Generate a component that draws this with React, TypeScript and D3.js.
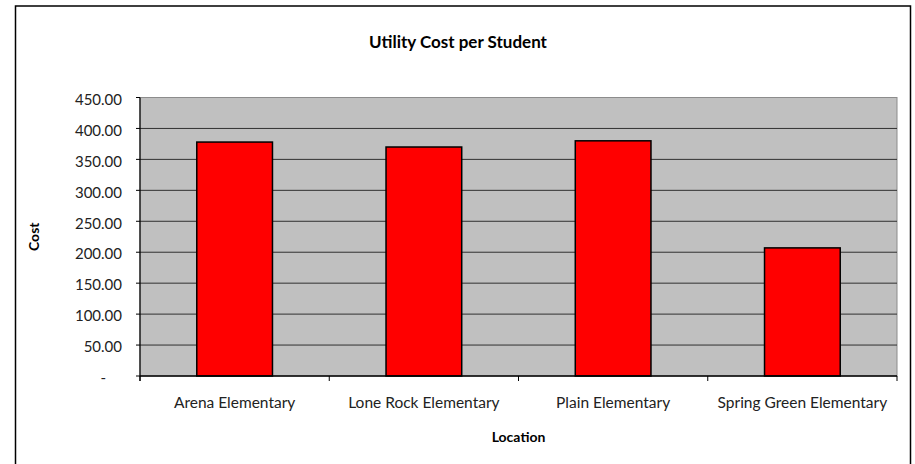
import React, { useEffect, useRef } from 'react';
import * as d3 from 'd3';

const categories = ['Arena Elementary', 'Lone Rock Elementary', 'Plain Elementary', 'Spring Green Elementary'];
const costs = [378, 370, 380, 207];
const yTicks = [0, 50, 100, 150, 200, 250, 300, 350, 400, 450];

const width = 915;
const height = 464;
const margin = { top: 97.5, right: 18, bottom: 88, left: 140 };
const font = 'Lato, "Liberation Sans", sans-serif';

const App = () => {
  const ref = useRef<SVGSVGElement>(null);

  useEffect(() => {
    const svg = d3.select(ref.current);
    svg.selectAll('*').remove();

    const x0 = margin.left;
    const x1 = width - margin.right;
    const y0 = height - margin.bottom;
    const y1 = margin.top;

    const x = d3.scaleBand<string>().domain(categories).range([x0, x1]).padding(0);
    const y = d3.scaleLinear().domain([0, 450]).range([y0, y1]);

    // outer chart frame
    svg.append('rect')
      .attr('x', 15.5).attr('y', 6)
      .attr('width', 895).attr('height', 470)
      .attr('fill', 'white').attr('stroke', 'black').attr('stroke-width', 1.5);

    // plot area
    svg.append('rect')
      .attr('x', x0).attr('y', y1)
      .attr('width', x1 - x0).attr('height', y0 - y1)
      .attr('fill', '#c0c0c0').attr('stroke', '#8c8c8c').attr('stroke-width', 1);

    // gridlines
    svg.append('g')
      .selectAll('line')
      .data(yTicks.filter(d => d > 0 && d < 450))
      .enter().append('line')
      .attr('x1', x0).attr('x2', x1)
      .attr('y1', d => y(d)).attr('y2', d => y(d))
      .attr('stroke', '#303030').attr('stroke-width', 1);

    // bars
    const bw = x.bandwidth() * 0.4;
    svg.append('g')
      .selectAll('rect')
      .data(categories)
      .enter().append('rect')
      .attr('x', d => (x(d) as number) + (x.bandwidth() - bw) / 2)
      .attr('y', (d, i) => y(costs[i]))
      .attr('width', bw)
      .attr('height', (d, i) => y0 - y(costs[i]))
      .attr('fill', '#ff0000').attr('stroke', 'black').attr('stroke-width', 1.5);

    // y axis
    const ya = svg.append('g');
    ya.append('line')
      .attr('x1', x0).attr('x2', x0).attr('y1', y1).attr('y2', y0 + 5)
      .attr('stroke', 'black').attr('stroke-width', 1.2);
    ya.selectAll('.tick')
      .data(yTicks)
      .enter().append('line')
      .attr('x1', x0 - 4).attr('x2', x0)
      .attr('y1', d => y(d)).attr('y2', d => y(d))
      .attr('stroke', 'black');
    ya.selectAll('text')
      .data(yTicks)
      .enter().append('text')
      .attr('x', d => d === 0 ? 106 : 122)
      .attr('y', d => y(d) + 2)
      .attr('dy', '0.35em')
      .attr('text-anchor', 'end')
      .attr('font-family', font).attr('font-size', 15).attr('fill', '#222')
      .text(d => d === 0 ? '-' : d3.format('.2f')(d));

    // x axis
    const xa = svg.append('g');
    xa.append('line')
      .attr('x1', x0).attr('x2', x1).attr('y1', y0).attr('y2', y0)
      .attr('stroke', 'black').attr('stroke-width', 1.5);
    const edges = categories.map(c => x(c) as number).concat([x1]);
    xa.selectAll('.tick')
      .data(edges)
      .enter().append('line')
      .attr('x1', d => d).attr('x2', d => d)
      .attr('y1', y0).attr('y2', y0 + 5)
      .attr('stroke', 'black');
    xa.selectAll('text')
      .data(categories)
      .enter().append('text')
      .attr('x', d => (x(d) as number) + x.bandwidth() / 2)
      .attr('y', 403)
      .attr('dy', '0.35em')
      .attr('text-anchor', 'middle')
      .attr('font-family', font).attr('font-size', 15.5).attr('fill', '#222')
      .text(d => d);

    // titles
    svg.append('text')
      .attr('x', 458).attr('y', 42).attr('dy', '0.35em')
      .attr('text-anchor', 'middle')
      .attr('font-family', font).attr('font-size', 17).attr('font-weight', 'bold')
      .text('Utility Cost per Student');
    svg.append('text')
      .attr('x', (x0 + x1) / 2).attr('y', 437).attr('dy', '0.35em')
      .attr('text-anchor', 'middle')
      .attr('font-family', font).attr('font-size', 14).attr('font-weight', 'bold')
      .text('Location');
    svg.append('text')
      .attr('transform', `translate(34, ${(y0 + y1) / 2}) rotate(-90)`)
      .attr('dy', '0.35em')
      .attr('text-anchor', 'middle')
      .attr('font-family', font).attr('font-size', 14).attr('font-weight', 'bold')
      .text('Cost');
  }, []);

  return (
    <svg ref={ref} width={width} height={height}
      style={{ position: 'absolute', left: 0, top: 0, display: 'block' }} />
  );
};

export default App;
